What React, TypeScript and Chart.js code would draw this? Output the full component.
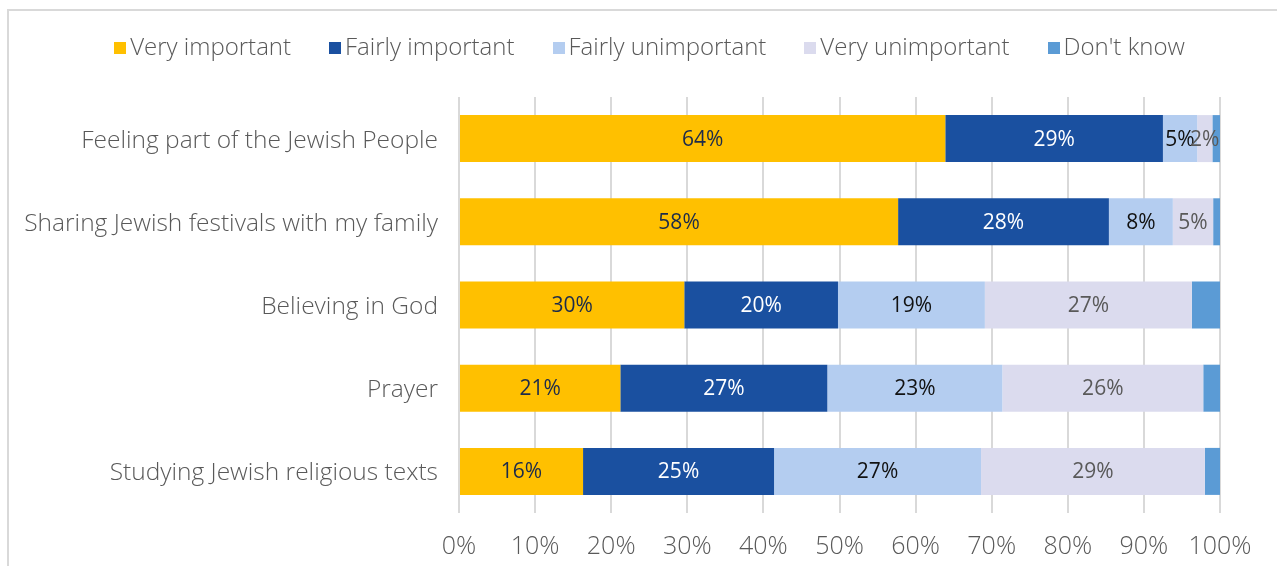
import React, { useEffect, useRef } from "react";
import { Chart, registerables } from "chart.js";

Chart.register(...registerables);

const categories = [
  "Feeling part of the Jewish People",
  "Sharing Jewish festivals with my family",
  "Believing in God",
  "Prayer",
  "Studying Jewish religious texts",
];
const seriesNames = ["Very important", "Fairly important", "Fairly unimportant", "Very unimportant", "Don't know"];
const veryImportant = [63.9, 57.7, 29.6, 21.2, 16.3];
const fairlyImportant = [28.6, 27.7, 20.2, 27.2, 25.1];
const fairlyUnimportant = [4.5, 8.4, 19.3, 23.0, 27.2];
const veryUnimportant = [2.0, 5.3, 27.2, 26.4, 29.4];
const dontKnow = [1.0, 0.9, 3.7, 2.2, 2.0];
const xTicks = [0, 10, 20, 30, 40, 50, 60, 70, 80, 90, 100];

const colors = ["#FFC000", "#1A50A0", "#B4CDF0", "#DBDBEE", "#5B9BD5"];
const labelColors = ["#1C2B4B", "#FFFFFF", "#111111", "#595959", null];
const FONT = "'Open Sans', 'Noto Sans', sans-serif";

const labelPlugin = {
  id: "barLabels",
  afterDatasetsDraw(chart: any) {
    const ctx = chart.ctx;
    ctx.save();
    ctx.font = `21px ${FONT}`;
    ctx.textAlign = "center";
    ctx.textBaseline = "middle";
    chart.data.datasets.forEach((ds: any, di: number) => {
      const col = labelColors[di];
      if (!col) return;
      const meta = chart.getDatasetMeta(di);
      meta.data.forEach((el: any, i: number) => {
        const v = ds.data[i];
        const p = el.getCenterPoint();
        ctx.fillStyle = col;
        ctx.fillText(Math.round(v) + "%", p.x, p.y + 1);
      });
    });
    ctx.restore();
  },
};

export default function App() {
  const ref = useRef<HTMLCanvasElement>(null);
  useEffect(() => {
    const allData = [veryImportant, fairlyImportant, fairlyUnimportant, veryUnimportant, dontKnow];
    const chart = new Chart(ref.current!, {
      type: "bar",
      data: {
        labels: categories,
        datasets: allData.map((d, i) => ({
          label: seriesNames[i],
          data: d,
          backgroundColor: colors[i],
          borderWidth: 0,
          barPercentage: 0.565,
          categoryPercentage: 1,
        })),
      },
      options: {
        indexAxis: "y",
        responsive: false,
        animation: false,
        layout: { padding: { top: 97, right: 57, bottom: 5, left: 0 } },
        plugins: { legend: { display: false }, tooltip: { enabled: false } },
        scales: {
          x: {
            stacked: true,
            min: 0,
            max: 100,
            afterBuildTicks: (s: any) => {
              s.ticks = xTicks.map((v) => ({ value: v }));
            },
            ticks: {
              callback: (v: any) => v + "%",
              color: "#595959",
              font: { family: FONT, size: 25, weight: "300" },
              padding: 19,
            },
            grid: { color: "#D9D9D9", lineWidth: 2, drawTicks: false },
            border: { display: false },
          },
          y: {
            stacked: true,
            afterFit: (s: any) => {
              s.width = 459;
            },
            ticks: {
              color: "#595959",
              font: { family: FONT, size: 24.5, weight: "300" },
              padding: 13,
              labelOffset: 2,
            },
            grid: { display: false },
            border: { display: false },
          },
        },
      },
      plugins: [labelPlugin],
    } as any);
    return () => chart.destroy();
  }, []);

  return (
    <div style={{ position: "absolute", left: 0, top: 0, width: 1277, height: 566, overflow: "hidden", background: "#fff" }}>
      <div
        style={{
          position: "absolute",
          left: 7,
          top: 9,
          width: 1400,
          height: 700,
          borderLeft: "2px solid #D9D9D9",
          borderTop: "2px solid #D9D9D9",
        }}
      />
      <canvas ref={ref} width={1277} height={586} style={{ position: "absolute", left: 0, top: 0 }} />
      <div
        style={{
          position: "absolute",
          left: 0,
          top: 31,
          width: 1299,
          display: "flex",
          justifyContent: "center",
          fontFamily: FONT,
          fontWeight: 300,
          fontSize: 24,
          color: "#595959",
          lineHeight: "30px",
          whiteSpace: "nowrap",
        }}
      >
        {seriesNames.map((n, i) => (
          <div key={n} style={{ display: "flex", alignItems: "center", marginLeft: i ? 38 : 0 }}>
            <span style={{ width: 12, height: 12, background: colors[i], marginRight: 4, marginTop: 3 }} />
            <span>{n}</span>
          </div>
        ))}
      </div>
    </div>
  );
}
